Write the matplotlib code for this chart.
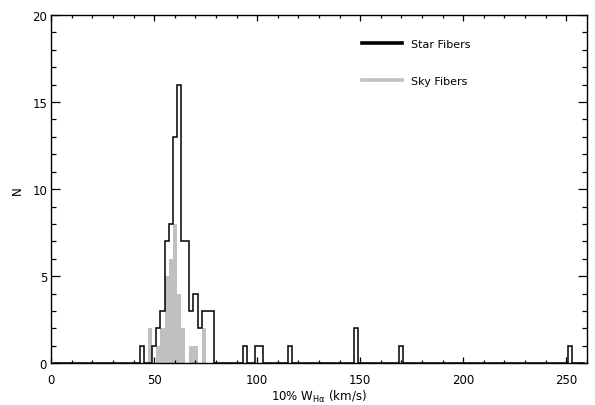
import numpy as np
import matplotlib
matplotlib.use("Agg")
import matplotlib.pyplot as plt

# histogram bins are 2 km/s wide, listed by their left edge
star_lo = [43, 49, 51, 53, 55, 57, 59, 61, 63, 65, 67, 69, 71, 73, 75, 77,
           93, 99, 101, 115, 147, 169, 251]
star_n = [1, 1, 2, 3, 7, 8, 13, 16, 7, 7, 3, 4, 2, 3, 3, 3,
          1, 1, 1, 1, 2, 1, 1]

sky_lo = [47, 51, 53, 55, 57, 59, 61, 63, 67, 69, 73]
sky_n = [2, 1, 2, 5, 6, 8, 4, 2, 1, 1, 2]

binw = 2
edges = np.arange(1, 261, binw)

def fill_counts(lo, n):
    c = np.zeros(len(edges) - 1)
    for l, v in zip(lo, n):
        c[(l - edges[0]) // binw] = v
    return c

star_c = fill_counts(star_lo, star_n)
sky_c = fill_counts(sky_lo, sky_n)

plt.rcParams['font.family'] = 'DejaVu Sans'
fig = plt.figure(figsize=(5.95, 4.06), dpi=100)
ax = fig.add_axes([0.0862, 0.1027, 0.9, 0.858])

ax.stairs(sky_c, edges, fill=True, color='#c0c0c0', lw=0)
ax.stairs(star_c, edges, color='black', lw=1.1)

# legend handles
ax.plot([], [], color='black', lw=2.6, label='Star Fibers')
ax.plot([], [], color='#c0c0c0', lw=2.6, label='Sky Fibers')
leg = ax.legend(loc='upper left', bbox_to_anchor=(0.562, 0.96), frameon=False,
                fontsize=8, handlelength=3.6, handletextpad=0.8, labelspacing=2.4)

ax.set_xlim(0, 260)
ax.set_ylim(0, 20)
ax.set_xticks(np.arange(0, 251, 50))
ax.set_xticks(np.arange(0, 261, 10), minor=True)
ax.set_yticks(np.arange(0, 21, 5))
ax.set_yticks(np.arange(0, 21, 1), minor=True)
ax.tick_params(which='both', direction='in', top=True, right=True, labelsize=8.5, width=0.9)
ax.tick_params(axis='x', which='major', length=4.5, pad=7)
ax.tick_params(axis='x', which='minor', length=2.2)
ax.tick_params(axis='y', which='major', length=6.5, pad=3)
ax.tick_params(axis='y', which='minor', length=3.5)
for s in ax.spines.values():
    s.set_linewidth(1.0)

ax.set_xlabel(r'10% W$_{\mathrm{H\alpha}}$ (km/s)', fontsize=8.5, labelpad=1)
ax.set_ylabel('N', fontsize=8.5, labelpad=6)

fig.savefig('out.png', dpi=100)
